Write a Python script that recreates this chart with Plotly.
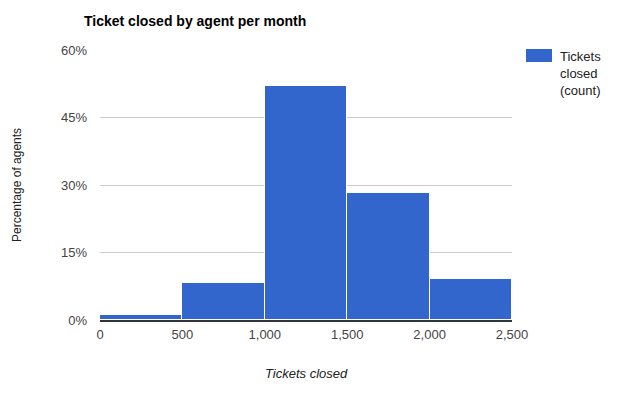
import plotly.graph_objects as go

bin_starts = [0, 500, 1000, 1500, 2000]
bin_width = 500
percentages = [1.1, 8.2, 52.0, 28.2, 9.1]
x_ticks = [0, 500, 1000, 1500, 2000, 2500]
y_ticks = [0, 15, 30, 45, 60]
legend_label = "Tickets<br>closed<br>(count)"

centers = [s + bin_width / 2 for s in bin_starts]

fig = go.Figure()
fig.add_trace(go.Bar(
    x=centers, y=percentages, width=[bin_width] * len(centers),
    name="Tickets closed (count)",
    marker=dict(color="#3366cc", line=dict(color="white", width=1)),
    hovertemplate="%{y}%<extra></extra>",
    showlegend=False,
))

fig.update_layout(
    width=622, height=394,
    margin=dict(l=100, r=110, t=50, b=74, autoexpand=False),
    paper_bgcolor="white", plot_bgcolor="white",
    font=dict(family="Liberation Sans, Arial, sans-serif", size=13, color="#444"),
    title=dict(text="<b>Ticket closed by agent per month</b>", x=84/622, xanchor="left",
               xref="container", y=1 - 21/394, yanchor="middle", pad=dict(l=0, r=0, t=0, b=0),
               font=dict(size=14, color="black")),
    bargap=0,
    shapes=[dict(type="rect", xref="paper", yref="paper",
                 x0=1 + 14/412, x1=1 + 40/412, y0=1 - 12/270, y1=1 + 1/270,
                 fillcolor="#3366cc", line=dict(width=0))],
    annotations=[
        dict(text=legend_label, xref="paper", yref="paper", x=1 + 46/412, y=1 + 3/270,
             xanchor="left", yanchor="top", align="left", showarrow=False,
             font=dict(size=13, color="#222")),
        dict(text="<i>Tickets closed</i>", xref="paper", yref="paper", x=0.5, y=-53/270,
             xanchor="center", yanchor="middle", showarrow=False,
             font=dict(size=13, color="#222")),
        dict(text="Percentage of agents", xref="paper", yref="paper", x=-83/412, y=0.5,
             xanchor="center", yanchor="middle", textangle=-90, showarrow=False,
             font=dict(size=12, color="#222")),
    ],
)
fig.update_xaxes(
    range=[0, 2500], tickvals=x_ticks,
    ticktext=[f"{v:,}" for v in x_ticks],
    showgrid=False, zeroline=False, showline=True, linecolor="#333", linewidth=2,
    ticks="", tickfont=dict(size=13, color="#444"), ticklabelstandoff=1,
    automargin=False,
)
fig.update_yaxes(
    range=[0, 60], tickvals=y_ticks, ticktext=[f"{v}%" for v in y_ticks],
    showgrid=True, gridcolor="#cccccc", gridwidth=1, zeroline=False,
    ticks="", tickfont=dict(size=13, color="#444"), ticklabelstandoff=12,
    automargin=False,
)

fig.write_html("out.html", config={"displayModeBar": False},
               post_script="document.body.style.margin='0';")
